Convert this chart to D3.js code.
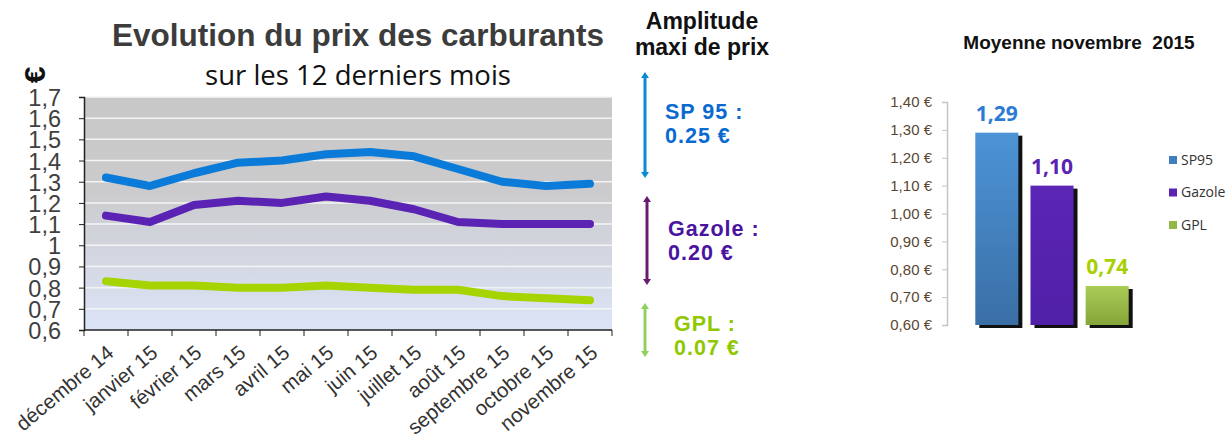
<!DOCTYPE html>
<html lang="fr">
<head>
<meta charset="utf-8">
<title>Evolution du prix des carburants</title>
<script src="https://d3js.org/d3.v7.min.js"></script>
<style>
  body { margin: 0; background: #fff; }
  svg { display: block; }
</style>
</head>
<body>
<script>
// ---- data ----
var months = ["décembre 14", "janvier 15", "février 15", "mars 15", "avril 15", "mai 15",
              "juin 15", "juillet 15", "août 15", "septembre 15", "octobre 15", "novembre 15"];
var sp95   = [1.32, 1.28, 1.34, 1.39, 1.40, 1.43, 1.44, 1.42, 1.36, 1.30, 1.28, 1.29];
var gazole = [1.14, 1.11, 1.19, 1.21, 1.20, 1.23, 1.21, 1.17, 1.11, 1.10, 1.10, 1.10];
var gpl    = [0.83, 0.81, 0.81, 0.80, 0.80, 0.81, 0.80, 0.79, 0.79, 0.76, 0.75, 0.74];
var yTicks = [0.6, 0.7, 0.8, 0.9, 1, 1.1, 1.2, 1.3, 1.4, 1.5, 1.6, 1.7];

var amplitudes = [
    { name: "SP 95 :", value: "0.25 €" },
    { name: "Gazole :", value: "0.20 €" },
    { name: "GPL :", value: "0.07 €" }
];

var barNames  = ["SP95", "Gazole", "GPL"];
var barValues = [1.29, 1.10, 0.74];
var barLabels = ["1,29", "1,10", "0,74"];
var barTicks  = [0.6, 0.7, 0.8, 0.9, 1.0, 1.1, 1.2, 1.3, 1.4];

var width = 1226, height = 439;

var svg = d3.select("body").append("svg")
    .attr("width", width)
    .attr("height", height);

var defs = svg.append("defs");

var bg = defs.append("linearGradient").attr("id", "plotbg")
    .attr("x1", 0).attr("y1", 0).attr("x2", 0).attr("y2", 1);
bg.append("stop").attr("offset", "0%").attr("stop-color", "#c8c8c8");
bg.append("stop").attr("offset", "40%").attr("stop-color", "#cbcbcd");
bg.append("stop").attr("offset", "100%").attr("stop-color", "#dde4f8");

// ---- left line chart ----
var plotLeft = 84, plotRight = 612, plotTop = 97, plotBottom = 330;

var x = d3.scaleBand().domain(months).range([plotLeft, plotRight]);
var y = d3.scaleLinear().domain([0.6, 1.7]).range([plotBottom, plotTop]);

svg.append("rect")
    .attr("x", plotLeft).attr("y", plotTop)
    .attr("width", plotRight - plotLeft).attr("height", plotBottom - plotTop)
    .attr("fill", "url(#plotbg)");

svg.append("g").selectAll("line")
    .data(yTicks.slice(1))
    .enter().append("line")
    .attr("x1", plotLeft).attr("x2", plotRight)
    .attr("y1", function (d) { return y(d); })
    .attr("y2", function (d) { return y(d); })
    .attr("stroke", "#f4f4f4")
    .attr("stroke-width", 1.5);

var yAxis = svg.append("g")
    .attr("transform", "translate(" + plotLeft + ",0)")
    .call(d3.axisLeft(y).tickValues(yTicks).tickSize(5).tickPadding(18)
        .tickFormat(function (d) { return d3.format(".1~f")(d).replace(".", ","); }));
yAxis.select(".domain").attr("stroke", "#222").attr("stroke-width", 1.5);
yAxis.selectAll(".tick line").attr("stroke", "#222");
yAxis.selectAll("text")
    .attr("font-family", "Liberation Sans Narrow, Arial Narrow, sans-serif")
    .attr("font-size", 23.5)
    .attr("fill", "#404040")
    .attr("dy", "0.36em");

var xAxis = svg.append("g")
    .attr("transform", "translate(0," + plotBottom + ")");
xAxis.append("line")
    .attr("x1", plotLeft).attr("x2", plotRight)
    .attr("stroke", "#222").attr("stroke-width", 1.5);
xAxis.selectAll(".tk")
    .data(months.concat(["end"]))
    .enter().append("line")
    .attr("class", "tk")
    .attr("x1", function (d, i) { return plotLeft + i * x.bandwidth(); })
    .attr("x2", function (d, i) { return plotLeft + i * x.bandwidth(); })
    .attr("y1", 0).attr("y2", 6)
    .attr("stroke", "#222");
xAxis.selectAll("text")
    .data(months)
    .enter().append("text")
    .attr("transform", function (d) {
        return "translate(" + (x(d) + x.bandwidth() / 2 + 9) + ",25) rotate(-40)";
    })
    .attr("text-anchor", "end")
    .attr("font-family", "Liberation Sans, Arial, sans-serif")
    .attr("font-size", 20.5)
    .attr("fill", "#333")
    .text(function (d) { return d; });

var line = d3.line()
    .x(function (d, i) { return x(months[i]) + x.bandwidth() / 2; })
    .y(function (d) { return y(d); });

var series = [
    { values: sp95, color: "#0a7bd8" },
    { values: gazole, color: "#5b23b3" },
    { values: gpl, color: "#a6d400" }
];
svg.append("g").selectAll("path")
    .data(series)
    .enter().append("path")
    .attr("d", function (d) { return line(d.values); })
    .attr("fill", "none")
    .attr("stroke", function (d) { return d.color; })
    .attr("stroke-width", 8)
    .attr("stroke-linecap", "round")
    .attr("stroke-linejoin", "round");

// euro sign turned on its side
svg.append("text")
    .attr("transform", "translate(34,75) rotate(-90)")
    .attr("text-anchor", "middle")
    .attr("dy", "0.35em")
    .attr("font-family", "Liberation Sans, Arial, sans-serif")
    .attr("font-weight", "bold")
    .attr("font-size", 30)
    .attr("fill", "#111")
    .text("€");

svg.append("text")
    .attr("x", 358).attr("y", 46)
    .attr("text-anchor", "middle")
    .attr("font-family", "Liberation Sans, Arial, sans-serif")
    .attr("font-weight", "bold")
    .attr("font-size", 31.5)
    .attr("fill", "#3c3c3c")
    .text("Evolution du prix des carburants");

svg.append("text")
    .attr("x", 358).attr("y", 85)
    .attr("text-anchor", "middle")
    .attr("font-family", "Open Sans, sans-serif")
    .attr("font-size", 27.5)
    .attr("fill", "#111")
    .text("sur les 12 derniers mois");

// ---- amplitude column ----
var amp = svg.append("g").attr("font-family", "Liberation Sans, Arial, sans-serif")
    .attr("font-weight", "bold");
amp.append("text").attr("x", 702).attr("y", 29).attr("text-anchor", "middle")
    .attr("font-size", 23).attr("fill", "#111").text("Amplitude");
amp.append("text").attr("x", 702).attr("y", 55).attr("text-anchor", "middle")
    .attr("font-size", 23).attr("fill", "#111").text("maxi de prix");

var ampRows = [
    { arrow: [72, 178], ax: 645, color: "#0a8ad0", textColor: "#0a6ad0", tx: 665, ty: 119 },
    { arrow: [196, 285], ax: 647, color: "#6a1a70", textColor: "#4a14a0", tx: 668, ty: 236 },
    { arrow: [303, 357], ax: 645, color: "#90d060", textColor: "#90c800", tx: 674, ty: 331 }
];
ampRows.forEach(function (r, i) {
    amp.append("line")
        .attr("x1", r.ax).attr("x2", r.ax)
        .attr("y1", r.arrow[0] + 3).attr("y2", r.arrow[1] - 3)
        .attr("stroke", r.color).attr("stroke-width", 3);
    [r.arrow[0], r.arrow[1]].forEach(function (ay, j) {
        var dir = j === 0 ? 1 : -1;
        amp.append("path")
            .attr("d", "M" + r.ax + "," + ay + " L" + (r.ax - 4) + "," + (ay + dir * 6) +
                " L" + (r.ax + 4) + "," + (ay + dir * 6) + "Z")
            .attr("fill", r.color);
    });
    amp.append("text").attr("x", r.tx).attr("y", r.ty)
        .attr("font-size", 21.5).attr("letter-spacing", 1).attr("fill", r.textColor)
        .text(amplitudes[i].name);
    amp.append("text").attr("x", r.tx).attr("y", r.ty + 24)
        .attr("font-size", 21.5).attr("letter-spacing", 1).attr("fill", r.textColor)
        .text(amplitudes[i].value);
});

// ---- right bar chart ----
var bTop = 102, bBottom = 325, bLeft = 947;
var by = d3.scaleLinear().domain([0.6, 1.4]).range([bBottom, bTop]);
var bx = d3.scaleBand().domain(barNames).range([972, 1132]).paddingInner(0.22).paddingOuter(0.06);

var barGrad = [
    ["#4c93d6", "#3a6fa6"],
    ["#5b25b5", "#5020a8"],
    ["#a9cc55", "#86a53a"]
];
barGrad.forEach(function (c, i) {
    var g = defs.append("linearGradient").attr("id", "bar" + i)
        .attr("x1", 0).attr("y1", 0).attr("x2", 0).attr("y2", 1);
    g.append("stop").attr("offset", "0%").attr("stop-color", c[0]);
    g.append("stop").attr("offset", "100%").attr("stop-color", c[1]);
});

var bAxis = svg.append("g")
    .attr("transform", "translate(" + bLeft + ",0)")
    .call(d3.axisLeft(by).tickValues(barTicks).tickSize(5).tickPadding(10)
        .tickFormat(function (d) { return d3.format(".2f")(d).replace(".", ",") + " €"; }));
bAxis.select(".domain").attr("stroke", "#c4c4c4").attr("stroke-width", 1.5);
bAxis.selectAll(".tick line").attr("stroke", "#c4c4c4");
bAxis.selectAll("text")
    .attr("font-family", "Liberation Sans, Arial, sans-serif")
    .attr("font-size", 15)
    .attr("fill", "#5a4530");

var bars = svg.append("g");
bars.selectAll(".shadow")
    .data(barValues)
    .enter().append("rect")
    .attr("class", "shadow")
    .attr("x", function (d, i) { return bx(barNames[i]) + 4; })
    .attr("y", function (d) { return by(d) + 3; })
    .attr("width", bx.bandwidth())
    .attr("height", function (d) { return bBottom - by(d); })
    .attr("fill", "#111");
bars.selectAll(".bar")
    .data(barValues)
    .enter().append("rect")
    .attr("class", "bar")
    .attr("x", function (d, i) { return bx(barNames[i]); })
    .attr("y", function (d) { return by(d); })
    .attr("width", bx.bandwidth())
    .attr("height", function (d) { return bBottom - by(d); })
    .attr("fill", function (d, i) { return "url(#bar" + i + ")"; });

var labelColors = ["#2a7ad6", "#5b23b3", "#a8d000"];
bars.selectAll(".val")
    .data(barValues)
    .enter().append("text")
    .attr("class", "val")
    .attr("x", function (d, i) { return bx(barNames[i]) + bx.bandwidth() / 2; })
    .attr("y", function (d) { return by(d) - 12; })
    .attr("text-anchor", "middle")
    .attr("font-family", "Open Sans, sans-serif")
    .attr("font-weight", "bold")
    .attr("font-size", 21)
    .attr("fill", function (d, i) { return labelColors[i]; })
    .text(function (d, i) { return barLabels[i]; });

svg.append("text")
    .attr("x", 1079).attr("y", 49)
    .attr("text-anchor", "middle")
    .attr("font-family", "Liberation Sans, Arial, sans-serif")
    .attr("font-weight", "bold")
    .attr("font-size", 19)
    .attr("fill", "#111")
    .attr("xml:space", "preserve")
    .text("Moyenne novembre  2015");

var legendColors = ["#3f7fc0", "#5b23b3", "#93b848"];
var legend = svg.append("g").selectAll("g")
    .data(barNames)
    .enter().append("g")
    .attr("transform", function (d, i) { return "translate(1169," + (160 + i * 32.5) + ")"; });
legend.append("rect")
    .attr("x", 0).attr("y", -4).attr("width", 8).attr("height", 8)
    .attr("fill", function (d, i) { return legendColors[i]; });
legend.append("text")
    .attr("x", 12).attr("dy", "0.35em")
    .attr("font-family", "Open Sans, sans-serif")
    .attr("font-size", 14)
    .attr("fill", "#333")
    .text(function (d) { return d; });
</script>
</body>
</html>
